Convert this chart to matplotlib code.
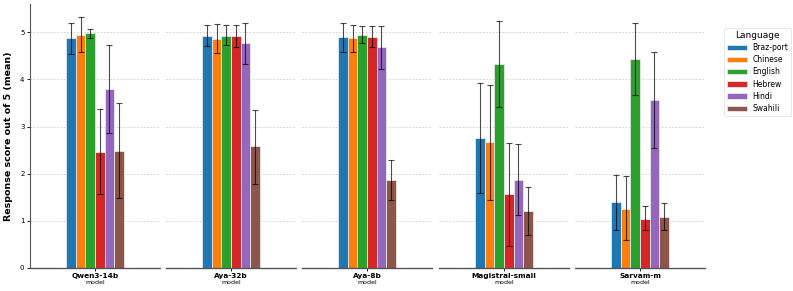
import matplotlib
matplotlib.use("Agg")
import matplotlib.pyplot as plt
import numpy as np

models = ["Qwen3-14b", "Aya-32b", "Aya-8b", "Magistral-small", "Sarvam-m"]
languages = ["Braz-port", "Chinese", "English", "Hebrew", "Hindi", "Swahili"]
colors = ["#1f77b4", "#ff7f0e", "#2ca02c", "#d62728", "#9467bd", "#8c564b"]

# mean per model (rows) x language (cols)
means = [
    [4.87, 4.94, 4.98, 2.47, 3.80, 2.49],
    [4.93, 4.86, 4.93, 4.92, 4.77, 2.58],
    [4.89, 4.87, 4.95, 4.91, 4.68, 1.87],
    [2.76, 2.67, 4.33, 1.56, 1.87, 1.21],
    [1.39, 1.26, 4.43, 1.05, 3.57, 1.09],
]
err_low = [
    [4.55, 4.58, 4.87, 1.57, 2.87, 1.49],
    [4.71, 4.56, 4.72, 4.69, 4.33, 1.79],
    [4.58, 4.58, 4.78, 4.69, 4.22, 1.45],
    [1.59, 1.45, 3.42, 0.47, 1.12, 0.70],
    [0.81, 0.59, 3.67, 0.80, 2.54, 0.80],
]
err_high = [
    [5.20, 5.32, 5.08, 3.37, 4.74, 3.50],
    [5.16, 5.17, 5.15, 5.15, 5.20, 3.36],
    [5.19, 5.16, 5.13, 5.13, 5.14, 2.30],
    [3.93, 3.89, 5.24, 2.65, 2.62, 1.72],
    [1.98, 1.95, 5.20, 1.31, 4.59, 1.38],
]

fig = plt.figure(figsize=(7.93, 2.91), dpi=100)
W, H = 793, 291
ax_w = 130
starts = [30, 166, 302, 439, 575]
bottom_px, top_px = 268, 4
axes = []
bw = 0.074
for i, m in enumerate(models):
    ax = fig.add_axes([starts[i] / W, 1 - bottom_px / H, ax_w / W, (bottom_px - top_px) / H],
                      sharey=axes[0] if axes else None)
    axes.append(ax)
    n = len(languages)
    for j, lang in enumerate(languages):
        x = (j - (n - 1) / 2) * bw
        v = means[i][j]
        ax.bar(x, v, width=bw, color=colors[j], edgecolor="#e8e8e8", linewidth=0.6,
               label=lang, zorder=2)
        ax.errorbar(x, v, yerr=[[v - err_low[i][j]], [err_high[i][j] - v]],
                    fmt="none", ecolor="black", elinewidth=0.8, capsize=2,
                    capthick=0.8, alpha=0.7, zorder=3)
    ax.set_xlim(-0.5, 0.5)
    ax.set_ylim(0, 5.6)
    ax.set_xticks([0])
    ax.set_xticklabels([m], fontsize=5.3, fontweight="bold")
    ax.set_xlabel("model", fontsize=4.5, labelpad=1)
    ax.tick_params(axis="x", length=2, pad=1.5, width=0.6)
    ax.yaxis.grid(True, linestyle=(0, (2, 2)), color="#cccccc", linewidth=0.6, zorder=0)
    ax.set_axisbelow(True)
    for s in ["top", "right"]:
        ax.spines[s].set_visible(False)
    ax.spines["bottom"].set_color("#555555")
    ax.spines["bottom"].set_linewidth(1.0)
    if i == 0:
        ax.set_yticks([0, 1, 2, 3, 4, 5])
        ax.tick_params(axis="y", labelsize=5, length=2, pad=2, width=0.6)
        ax.spines["left"].set_color("#555555")
        ax.set_ylabel("Response score out of 5 (mean)", fontsize=6.8, fontweight="bold", labelpad=5)
    else:
        ax.spines["left"].set_visible(False)
        ax.tick_params(axis="y", left=False, labelleft=False)

handles, labels = axes[0].get_legend_handles_labels()
leg = fig.legend(handles, labels, title="Language", loc="upper left",
                 bbox_to_anchor=(724 / W, 1 - 28 / H), fontsize=5.5, title_fontsize=6.5,
                 frameon=True, handlelength=2.6, handleheight=0.7, labelspacing=0.42,
                 borderpad=0.35, handletextpad=0.8, borderaxespad=0)
leg.get_frame().set_edgecolor("#dddddd")
leg.get_frame().set_linewidth(0.6)

fig.savefig("out.png", dpi=100)
